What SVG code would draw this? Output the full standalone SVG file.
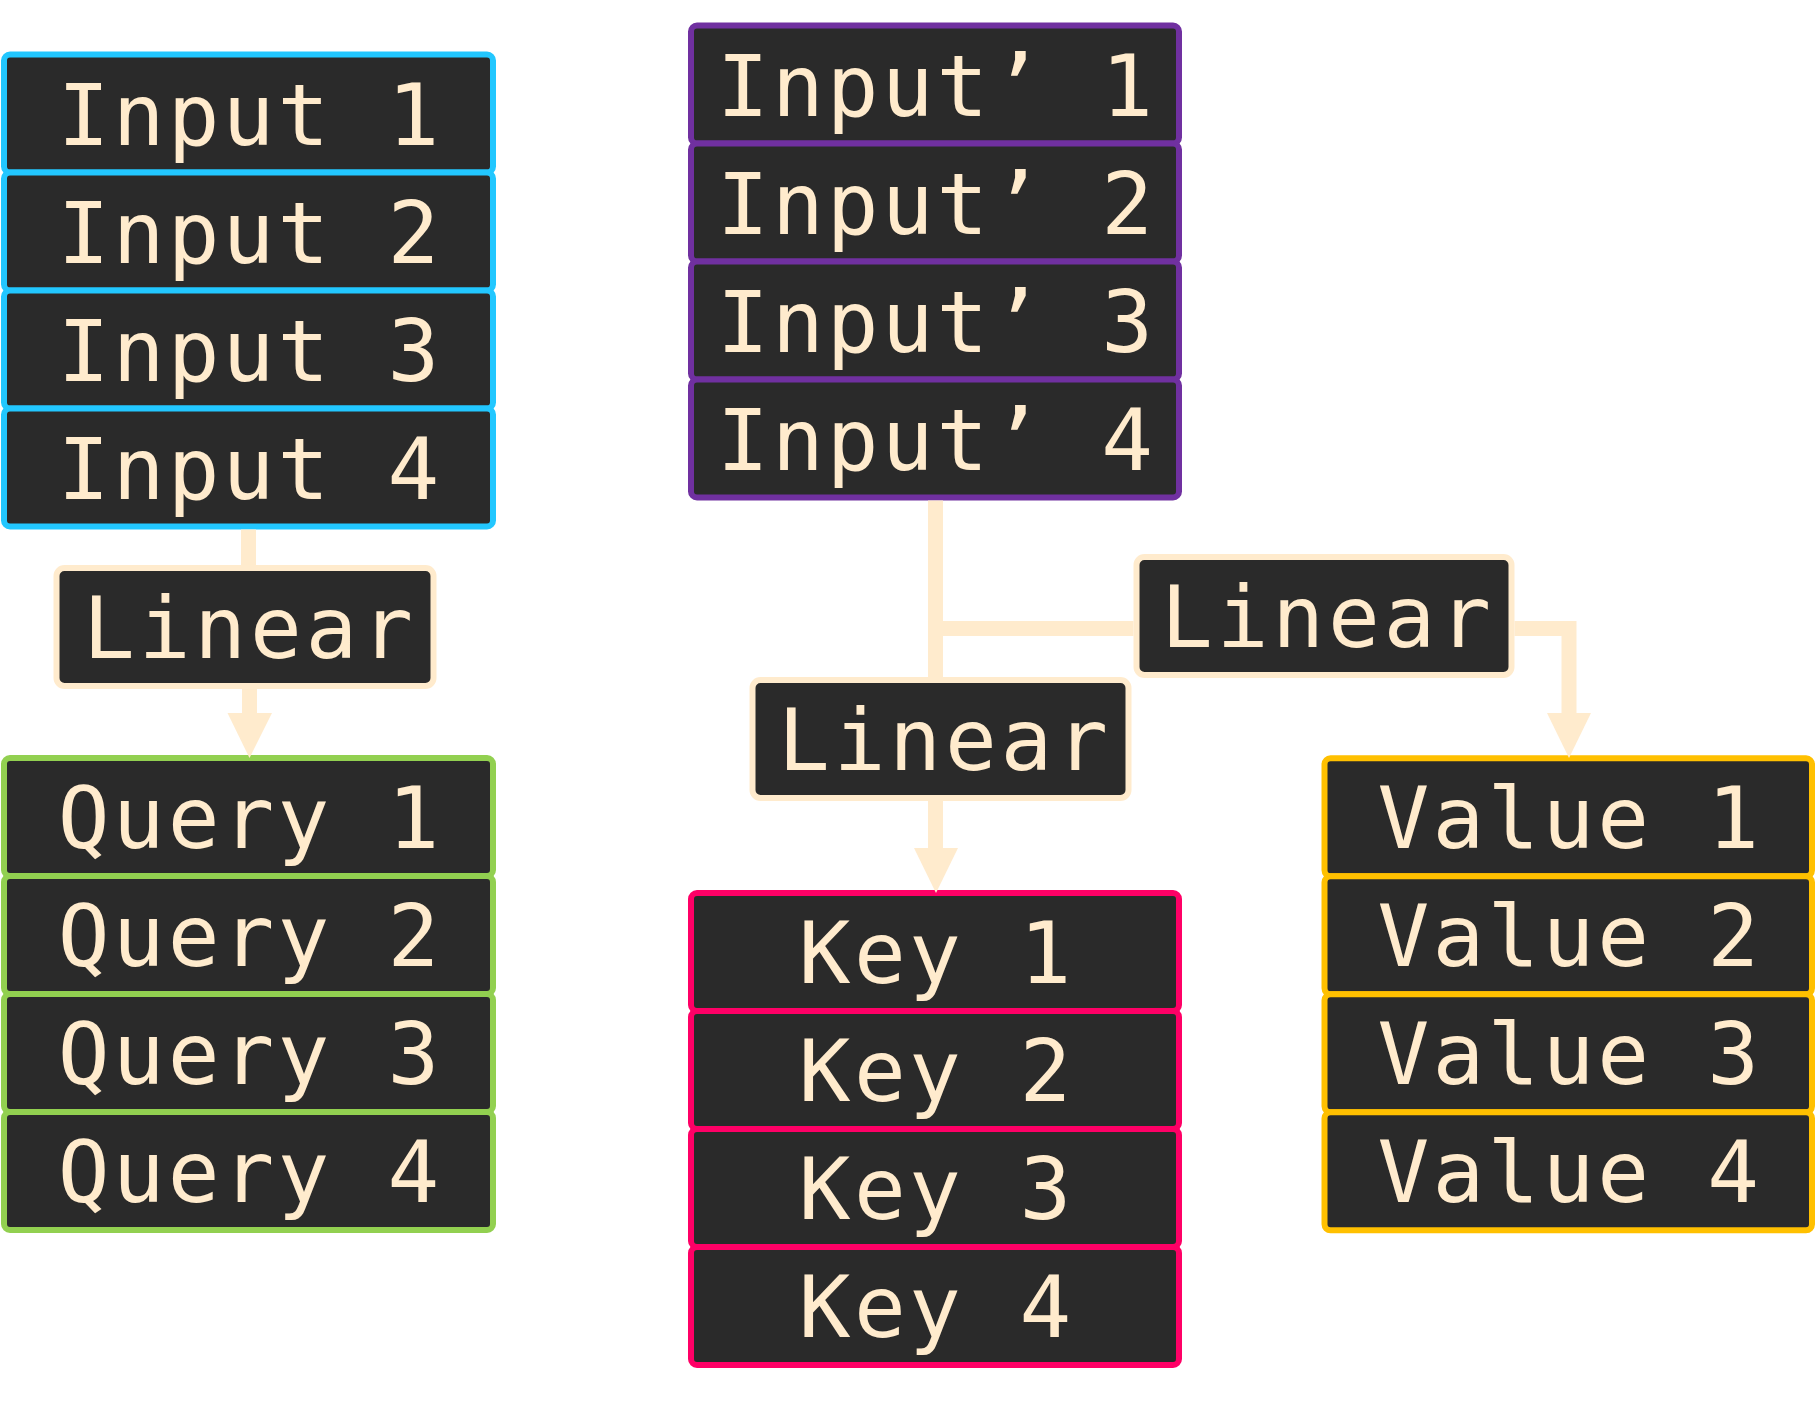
<svg xmlns="http://www.w3.org/2000/svg" width="1816" height="1417" viewBox="0 0 1816 1417">
<style>
.box{fill:#2A2A2A;stroke-width:6}
.in{stroke:#22C7FF}
.ip{stroke:#7030A0}
.q{stroke:#92D050}
.k{stroke:#FF0066}
.v{stroke:#FFC000}
.lin{stroke:#FFEBCD}
text{font-family:"DejaVu Sans Mono","Liberation Mono",monospace;font-size:86px;fill:#FFEBCD;text-anchor:middle}
.c{stroke:#FFEBCD;stroke-width:15;fill:none;stroke-linejoin:miter}
.ah{fill:#FFEBCD}
</style>
<rect width="1816" height="1417" fill="#FFFFFF"/>
<g id="input1"><rect class="box in" x="4" y="54.5" width="489" height="118" rx="6"/><text x="248.5" y="145" textLength="381.5" lengthAdjust="spacing">Input 1</text></g>
<g id="input2"><rect class="box in" x="4" y="172.5" width="489" height="118" rx="6"/><text x="248.5" y="263" textLength="381.5" lengthAdjust="spacing">Input 2</text></g>
<g id="input3"><rect class="box in" x="4" y="290.5" width="489" height="118" rx="6"/><text x="248.5" y="381" textLength="381.5" lengthAdjust="spacing">Input 3</text></g>
<g id="input4"><rect class="box in" x="4" y="408.5" width="489" height="118" rx="6"/><text x="248.5" y="499" textLength="381.5" lengthAdjust="spacing">Input 4</text></g>

<g id="inputp1"><rect class="box ip" x="691" y="25.5" width="488" height="118" rx="6"/><text x="935" y="116" textLength="436" lengthAdjust="spacing">Input’ 1</text></g>
<g id="inputp2"><rect class="box ip" x="691" y="143.5" width="488" height="118" rx="6"/><text x="935" y="234" textLength="436" lengthAdjust="spacing">Input’ 2</text></g>
<g id="inputp3"><rect class="box ip" x="691" y="261.5" width="488" height="118" rx="6"/><text x="935" y="352" textLength="436" lengthAdjust="spacing">Input’ 3</text></g>
<g id="inputp4"><rect class="box ip" x="691" y="379.5" width="488" height="118" rx="6"/><text x="935" y="470" textLength="436" lengthAdjust="spacing">Input’ 4</text></g>

<g id="linear_q"><rect class="box lin" x="56.5" y="568" width="377" height="118" rx="8"/><text x="248" y="658" textLength="330" lengthAdjust="spacing">Linear</text></g>
<g id="linear_k"><rect class="box lin" x="752.5" y="680" width="376" height="118" rx="8"/><text x="943" y="770" textLength="330" lengthAdjust="spacing">Linear</text></g>
<g id="linear_v"><rect class="box lin" x="1136.5" y="557" width="375" height="118" rx="8"/><text x="1326" y="647" textLength="330" lengthAdjust="spacing">Linear</text></g>

<g id="query1"><rect class="box q" x="4" y="758" width="489" height="118" rx="6"/><text x="248.5" y="848" textLength="381.5" lengthAdjust="spacing">Query 1</text></g>
<g id="query2"><rect class="box q" x="4" y="876" width="489" height="118" rx="6"/><text x="248.5" y="966" textLength="381.5" lengthAdjust="spacing">Query 2</text></g>
<g id="query3"><rect class="box q" x="4" y="994" width="489" height="118" rx="6"/><text x="248.5" y="1084" textLength="381.5" lengthAdjust="spacing">Query 3</text></g>
<g id="query4"><rect class="box q" x="4" y="1112" width="489" height="118" rx="6"/><text x="248.5" y="1202" textLength="381.5" lengthAdjust="spacing">Query 4</text></g>

<g id="key1"><rect class="box k" x="691" y="893" width="488" height="118" rx="6"/><text x="935" y="983" textLength="272.5" lengthAdjust="spacing">Key 1</text></g>
<g id="key2"><rect class="box k" x="691" y="1011" width="488" height="118" rx="6"/><text x="935" y="1101" textLength="272.5" lengthAdjust="spacing">Key 2</text></g>
<g id="key3"><rect class="box k" x="691" y="1129" width="488" height="118" rx="6"/><text x="935" y="1219" textLength="272.5" lengthAdjust="spacing">Key 3</text></g>
<g id="key4"><rect class="box k" x="691" y="1247" width="488" height="118" rx="6"/><text x="935" y="1337" textLength="272.5" lengthAdjust="spacing">Key 4</text></g>

<g id="value1"><rect class="box v" x="1324.5" y="758.3" width="487.5" height="118" rx="6"/><text x="1568.3" y="848" textLength="381.5" lengthAdjust="spacing">Value 1</text></g>
<g id="value2"><rect class="box v" x="1324.5" y="876.3" width="487.5" height="118" rx="6"/><text x="1568.3" y="966" textLength="381.5" lengthAdjust="spacing">Value 2</text></g>
<g id="value3"><rect class="box v" x="1324.5" y="994.3" width="487.5" height="118" rx="6"/><text x="1568.3" y="1084" textLength="381.5" lengthAdjust="spacing">Value 3</text></g>
<g id="value4"><rect class="box v" x="1324.5" y="1112.3" width="487.5" height="118" rx="6"/><text x="1568.3" y="1202" textLength="381.5" lengthAdjust="spacing">Value 4</text></g>

<g id="connectors">
<line class="c" x1="248.5" y1="529.5" x2="248.5" y2="565"/>
<line class="c" x1="249.5" y1="689" x2="249.5" y2="714"/>
<polygon class="ah" points="227.5,713 272,713 249.5,758"/>
<line class="c" x1="935.5" y1="500.5" x2="935.5" y2="677"/>
<line class="c" x1="935.5" y1="628.5" x2="1133.5" y2="628.5"/>
<polyline class="c" points="1514.5,628.5 1569,628.5 1569,714"/>
<polygon class="ah" points="1547,713 1591,713 1569,758"/>
<line class="c" x1="935.5" y1="801" x2="935.5" y2="849"/>
<polygon class="ah" points="914,848 958,848 936,893"/>
</g>
</svg>
